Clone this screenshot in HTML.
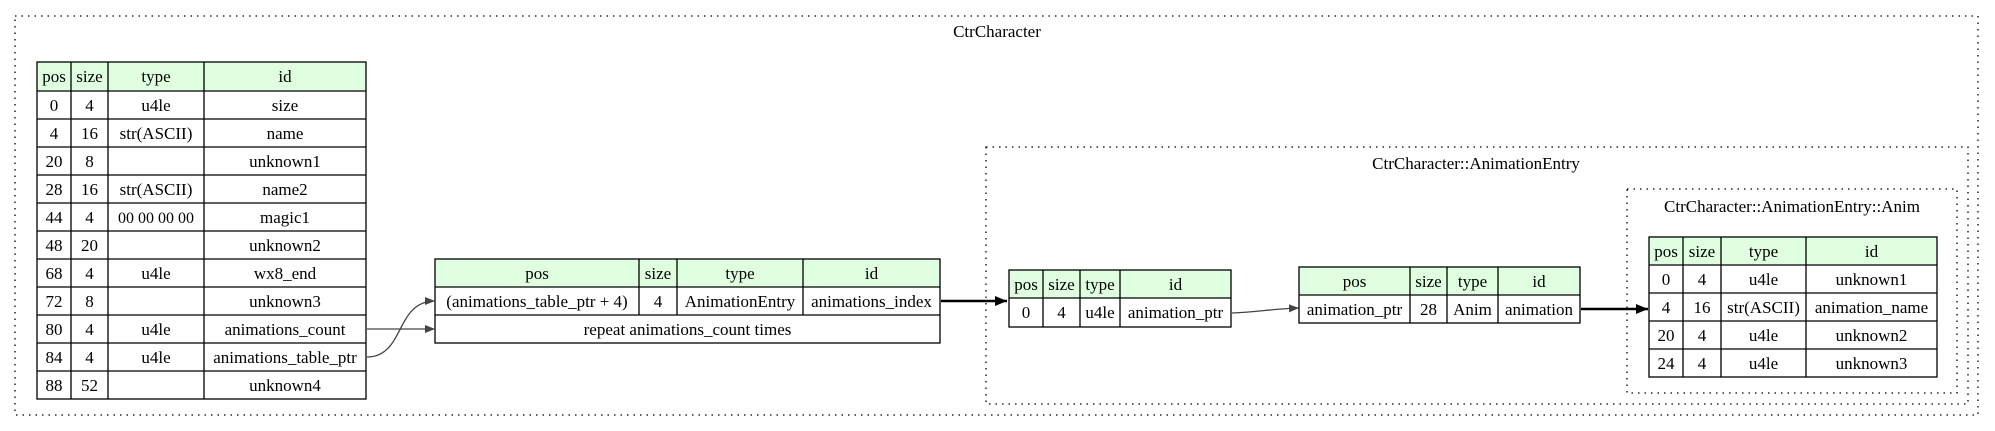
<!DOCTYPE html>
<html><head><meta charset="utf-8"><style>
html,body{margin:0;padding:0;background:#fff;}
svg{display:block;}
text{font-family:"Liberation Serif",serif;font-size:17px;fill:#000;text-anchor:middle;}
.h{fill:#e0ffe0;}
.b{fill:none;stroke:#000;stroke-width:1.3;}
.c{fill:none;stroke:#000;stroke-width:1.3;stroke-dasharray:1.5,5;}
</style></head><body>
<svg width="1995" height="431" viewBox="0 0 1995 431" xmlns="http://www.w3.org/2000/svg">
<defs>
<marker id="a" markerWidth="10" markerHeight="8" refX="10" refY="4" orient="auto" markerUnits="userSpaceOnUse"><path d="M0,0 L10,4 L0,8 z" fill="#444"/></marker>
<marker id="ak" markerWidth="12" markerHeight="10" refX="12" refY="5" orient="auto" markerUnits="userSpaceOnUse"><path d="M0,0 L12,5 L0,10 z" fill="#000"/></marker>
</defs>
<rect class="c" x="15" y="16" width="1963" height="399"/>
<text x="997" y="37">CtrCharacter</text>
<rect class="c" x="986" y="147" width="982" height="257"/>
<text x="1476" y="169">CtrCharacter::AnimationEntry</text>
<rect class="c" x="1627" y="189" width="330" height="204"/>
<text x="1792" y="212">CtrCharacter::AnimationEntry::Anim</text>

<!-- left table -->
<rect class="h" x="37" y="62" width="329" height="29"/>
<g class="b">
<rect x="37" y="62" width="329" height="337"/>
<line x1="71" y1="62" x2="71" y2="399"/><line x1="108" y1="62" x2="108" y2="399"/><line x1="204" y1="62" x2="204" y2="399"/>
<line x1="37" y1="91" x2="366" y2="91"/><line x1="37" y1="119" x2="366" y2="119"/><line x1="37" y1="147" x2="366" y2="147"/><line x1="37" y1="175" x2="366" y2="175"/><line x1="37" y1="203" x2="366" y2="203"/><line x1="37" y1="231" x2="366" y2="231"/><line x1="37" y1="259" x2="366" y2="259"/><line x1="37" y1="287" x2="366" y2="287"/><line x1="37" y1="315" x2="366" y2="315"/><line x1="37" y1="343" x2="366" y2="343"/><line x1="37" y1="371" x2="366" y2="371"/>
</g>
<g>
<text x="54" y="82">pos</text><text x="89.5" y="82">size</text><text x="156" y="82">type</text><text x="285" y="82">id</text>
<text x="54" y="111">0</text><text x="89.5" y="111">4</text><text x="156" y="111">u4le</text><text x="285" y="111">size</text>
<text x="54" y="139">4</text><text x="89.5" y="139">16</text><text x="156" y="139">str(ASCII)</text><text x="285" y="139">name</text>
<text x="54" y="167">20</text><text x="89.5" y="167">8</text><text x="285" y="167">unknown1</text>
<text x="54" y="195">28</text><text x="89.5" y="195">16</text><text x="156" y="195">str(ASCII)</text><text x="285" y="195">name2</text>
<text x="54" y="223">44</text><text x="89.5" y="223">4</text><text x="156" y="223" style="font-size:16px">00 00 00 00</text><text x="285" y="223">magic1</text>
<text x="54" y="251">48</text><text x="89.5" y="251">20</text><text x="285" y="251">unknown2</text>
<text x="54" y="279">68</text><text x="89.5" y="279">4</text><text x="156" y="279">u4le</text><text x="285" y="279">wx8_end</text>
<text x="54" y="307">72</text><text x="89.5" y="307">8</text><text x="285" y="307">unknown3</text>
<text x="54" y="335">80</text><text x="89.5" y="335">4</text><text x="156" y="335">u4le</text><text x="285" y="335">animations_count</text>
<text x="54" y="363">84</text><text x="89.5" y="363">4</text><text x="156" y="363">u4le</text><text x="285" y="363">animations_table_ptr</text>
<text x="54" y="391">88</text><text x="89.5" y="391">52</text><text x="285" y="391">unknown4</text>
</g>

<!-- middle table -->
<rect class="h" x="435" y="259" width="505" height="28"/>
<g class="b">
<rect x="435" y="259" width="505" height="84"/>
<line x1="639" y1="259" x2="639" y2="315"/><line x1="677" y1="259" x2="677" y2="315"/><line x1="803" y1="259" x2="803" y2="315"/>
<line x1="435" y1="287" x2="940" y2="287"/><line x1="435" y1="315" x2="940" y2="315"/>
</g>
<text x="537" y="279">pos</text><text x="658" y="279">size</text><text x="740" y="279">type</text><text x="871.5" y="279">id</text>
<text x="537" y="307">(animations_table_ptr + 4)</text><text x="658" y="307">4</text><text x="740" y="307">AnimationEntry</text><text x="871.5" y="307">animations_index</text>
<text x="687.5" y="335">repeat animations_count times</text>

<!-- edges left -->
<path d="M367,329 L435,329" stroke="#444" stroke-width="1.3" fill="none" marker-end="url(#a)"/>
<path d="M367,357 C405,357 395,301 435,301" stroke="#444" stroke-width="1.3" fill="none" marker-end="url(#a)"/>
<path d="M941,301 L1007,301" stroke="#000" stroke-width="2.5" fill="none" marker-end="url(#ak)"/>

<!-- AnimationEntry table -->
<rect class="h" x="1009" y="270" width="222" height="28"/>
<g class="b">
<rect x="1009" y="270" width="222" height="57"/>
<line x1="1043" y1="270" x2="1043" y2="327"/><line x1="1080" y1="270" x2="1080" y2="327"/><line x1="1120" y1="270" x2="1120" y2="327"/>
<line x1="1009" y1="298" x2="1231" y2="298"/>
</g>
<text x="1026" y="290">pos</text><text x="1061.5" y="290">size</text><text x="1100" y="290">type</text><text x="1175.5" y="290">id</text>
<text x="1026" y="318">0</text><text x="1061.5" y="318">4</text><text x="1100" y="318">u4le</text><text x="1175.5" y="318">animation_ptr</text>

<path d="M1232,313 C1260,312 1270,309 1299,308" stroke="#444" stroke-width="1.3" fill="none" marker-end="url(#a)"/>

<!-- instance table -->
<rect class="h" x="1299" y="267" width="281" height="28"/>
<g class="b">
<rect x="1299" y="267" width="281" height="56"/>
<line x1="1410" y1="267" x2="1410" y2="323"/><line x1="1447" y1="267" x2="1447" y2="323"/><line x1="1498" y1="267" x2="1498" y2="323"/>
<line x1="1299" y1="295" x2="1580" y2="295"/>
</g>
<text x="1354.5" y="287">pos</text><text x="1428.5" y="287">size</text><text x="1472.5" y="287">type</text><text x="1539" y="287">id</text>
<text x="1354.5" y="315">animation_ptr</text><text x="1428.5" y="315">28</text><text x="1472.5" y="315">Anim</text><text x="1539" y="315">animation</text>

<path d="M1581,309 L1648,309" stroke="#000" stroke-width="2.5" fill="none" marker-end="url(#ak)"/>

<!-- Anim table -->
<rect class="h" x="1649" y="237" width="288" height="28"/>
<g class="b">
<rect x="1649" y="237" width="288" height="140"/>
<line x1="1683" y1="237" x2="1683" y2="377"/><line x1="1721" y1="237" x2="1721" y2="377"/><line x1="1806" y1="237" x2="1806" y2="377"/>
<line x1="1649" y1="265" x2="1937" y2="265"/><line x1="1649" y1="293" x2="1937" y2="293"/><line x1="1649" y1="321" x2="1937" y2="321"/><line x1="1649" y1="349" x2="1937" y2="349"/>
</g>
<text x="1666" y="257">pos</text><text x="1702" y="257">size</text><text x="1763.5" y="257">type</text><text x="1871.5" y="257">id</text>
<text x="1666" y="285">0</text><text x="1702" y="285">4</text><text x="1763.5" y="285">u4le</text><text x="1871.5" y="285">unknown1</text>
<text x="1666" y="313">4</text><text x="1702" y="313">16</text><text x="1763.5" y="313">str(ASCII)</text><text x="1871.5" y="313">animation_name</text>
<text x="1666" y="341">20</text><text x="1702" y="341">4</text><text x="1763.5" y="341">u4le</text><text x="1871.5" y="341">unknown2</text>
<text x="1666" y="369">24</text><text x="1702" y="369">4</text><text x="1763.5" y="369">u4le</text><text x="1871.5" y="369">unknown3</text>
</svg>
</body></html>
